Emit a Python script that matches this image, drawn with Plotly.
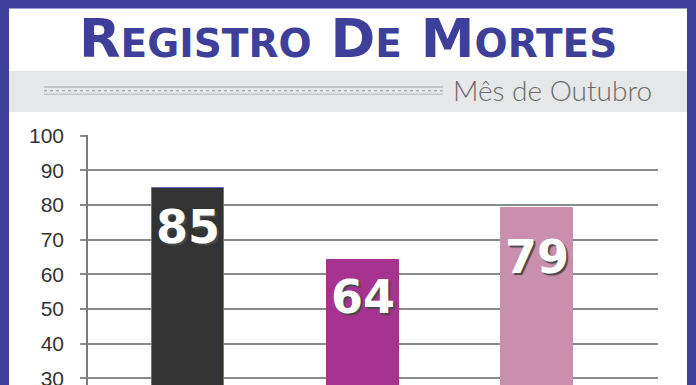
import plotly.graph_objects as go

# ---- data ----
categorias = ["Barra 1", "Barra 2", "Barra 3"]
valores = [85, 64, 79]
rotulos = ["85", "64", "79"]
y_ticks = [30, 40, 50, 60, 70, 80, 90, 100]
titulo = "REGISTRO DE MORTES"
subtitulo = "Mês de Outubro"

# ---- styling ----
W, H = 696, 385
L, R, T, B = 88, 38, 135, 0
PW, PH = W - L - R, H - T - B
cores = ["#333333", "#a5338f", "#c98fac"]
contornos = ["#6b6bbf", "#a5338f", "#c98fac"]
label_shift = [-10, -8, -20]
AZUL = "#3d3f98"


def px_x(px):
    return (px - L) / PW


def px_y(py):
    return (H - B - py) / PH


xs = list(range(len(categorias)))

fig = go.Figure()
fig.add_trace(go.Bar(
    x=xs, y=valores, width=0.412,
    marker=dict(color=cores, line=dict(color=contornos, width=1)),
    hoverinfo="skip", showlegend=False,
))

for i, (v, t) in enumerate(zip(valores, rotulos)):
    fig.add_annotation(
        x=xs[i], y=v, text=t, showarrow=False, xanchor="center", yanchor="top",
        yshift=label_shift[i],
        font=dict(family="DejaVu Sans", size=46, color="white", weight="bold",
                  shadow="2px 2px 1px #4a4a4a"),
    )

shapes = []
shapes.append(dict(type="rect", xref="paper", yref="paper",
                   x0=px_x(9), x1=px_x(687), y0=px_y(112), y1=px_y(71),
                   fillcolor="#e6e7e8", line=dict(width=0), layer="below"))
for yy, col, dash in [(87, "#a0a0a0", "solid"), (90.8, "#9a9a9a", "dot"), (94.2, "#b4b4b4", "solid")]:
    shapes.append(dict(type="line", xref="paper", yref="paper",
                       x0=px_x(44), x1=px_x(443), y0=px_y(yy), y1=px_y(yy),
                       line=dict(color=col, width=1, dash=dash)))
shapes.append(dict(type="rect", xref="paper", yref="paper",
                   x0=px_x(0), x1=px_x(9), y0=px_y(H), y1=px_y(0),
                   fillcolor=AZUL, line=dict(width=0)))
shapes.append(dict(type="rect", xref="paper", yref="paper",
                   x0=px_x(687), x1=px_x(W), y0=px_y(H), y1=px_y(0),
                   fillcolor=AZUL, line=dict(width=0)))
shapes.append(dict(type="rect", xref="paper", yref="paper",
                   x0=px_x(0), x1=px_x(W), y0=px_y(8.5), y1=px_y(0),
                   fillcolor=AZUL, line=dict(width=0)))

big, small = 54, 39
words = titulo.split(" ")
parts = []
for w in words:
    parts.append(f'<span style="font-size:{big}px">{w[0]}</span>'
                 f'<span style="font-size:{small}px">{w[1:]}</span>')
title_html = " ".join(parts)
fig.add_annotation(
    xref="paper", yref="paper", x=px_x(347.5), y=px_y(38.5),
    text=title_html, showarrow=False, xanchor="center", yanchor="middle",
    font=dict(family="DejaVu Sans", size=big, color=AZUL, weight="bold"),
)
fig.add_annotation(
    xref="paper", yref="paper", x=px_x(451), y=px_y(90),
    text=subtitulo, showarrow=False, xanchor="left", yanchor="middle",
    font=dict(family="Lato", size=28, color="#6a6a6a", weight=300),
)

fig.update_layout(
    width=W, height=H,
    margin=dict(l=L, r=R, t=T, b=B, pad=0),
    paper_bgcolor="white", plot_bgcolor="white",
    shapes=shapes,
    bargap=0,
    xaxis=dict(range=[-0.572, 2.69], visible=False, fixedrange=True),
    yaxis=dict(
        range=[28.07, 100.2], tickvals=y_ticks, ticktext=[str(v) for v in y_ticks],
        showgrid=True, gridcolor="#8a8a8a", gridwidth=1.5,
        showline=True, linecolor="#7a7a7a", linewidth=1.5,
        ticks="outside", ticklen=6, tickcolor="#8a8a8a", tickwidth=1.5,
        ticklabelstandoff=12, ticklabeloverflow="allow",
        tickfont=dict(family="Liberation Sans", size=21, color="#333333"),
        zeroline=False, automargin=False, fixedrange=True,
    ),
)

fig.write_html("out.html", config={"displayModeBar": False},
               post_script="document.body.style.margin='0';document.body.style.overflow='hidden';")
